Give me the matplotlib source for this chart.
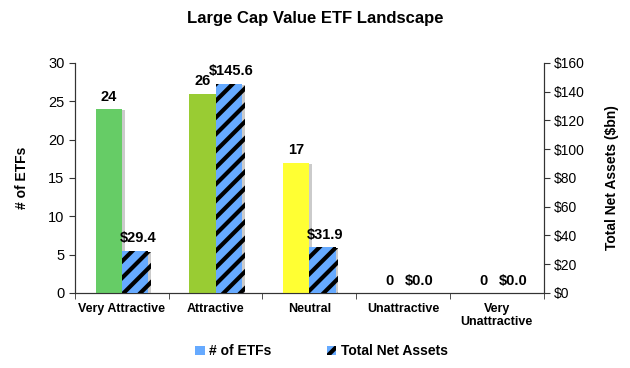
import numpy as np
import matplotlib
matplotlib.use('Agg')
import matplotlib.pyplot as plt
import matplotlib.patheffects as pe
from matplotlib.patches import Patch

plt.rcParams['font.family'] = ['Liberation Sans', 'DejaVu Sans']
plt.rcParams['hatch.linewidth'] = 3.0

categories = ['Very Attractive', 'Attractive', 'Neutral', 'Unattractive', 'Very\nUnattractive']
num_etfs = [24, 26, 17, 0, 0]
net_assets = [29.4, 145.6, 31.9, 0.0, 0.0]
etf_colors = ['#66CC66', '#99CC33', '#FFFF33', '#FF9933', '#FF3333']

fig = plt.figure(figsize=(6.3, 3.68), dpi=100)
ax = fig.add_axes([0.119, 0.204, 0.744, 0.625])
ax2 = ax.twinx()

x = np.arange(len(categories))
w = 0.28
shadow = [pe.SimplePatchShadow(offset=(2, -1), shadow_rgbFace='#999999', alpha=0.5), pe.Normal()]

b1 = ax.bar(x - w / 2, num_etfs, w, color=etf_colors, linewidth=0, path_effects=shadow, zorder=3)
b2 = ax2.bar(x + w / 2, net_assets, w, color='#66AAFF', edgecolor='black', linewidth=0,
             hatch='//', path_effects=shadow, zorder=3)

for xi, v in zip(x, num_etfs):
    ax.text(xi - w / 2, v + 0.7, f'{v}', ha='center', va='bottom', fontsize=10.5, fontweight='bold')
for xi, v in zip(x, net_assets):
    ax2.text(xi + w / 2 + 0.03, v + 3.7, f'${v:.1f}', ha='center', va='bottom', fontsize=10.5, fontweight='bold')

ax.set_xlim(-0.5, len(categories) - 0.5)
ax.set_ylim(0, 30)
ax.set_yticks(range(0, 31, 5))
ax2.set_ylim(0, 160)
ax2.set_yticks(range(0, 161, 20))
ax2.set_yticklabels([f'${t}' for t in range(0, 161, 20)])

ax.set_xticks(x)
ax.set_xticklabels(categories, fontsize=9, fontweight='bold')
ax.set_xticks(np.arange(-0.5, len(categories), 1), minor=True)
ax.tick_params(axis='x', which='major', length=0, pad=7)
ax.tick_params(axis='x', which='minor', length=4, direction='out', color='#333333')
ax.tick_params(axis='y', labelsize=10.5, length=4, color='#333333')
ax2.tick_params(axis='y', labelsize=10, length=4, color='#333333')

for a in (ax, ax2):
    a.spines['top'].set_visible(False)
    for s in ('left', 'right', 'bottom'):
        a.spines[s].set_color('#333333')

ax.set_ylabel('# of ETFs', fontsize=10, fontweight='bold', labelpad=14)
ax2.set_ylabel('Total Net Assets ($bn)', fontsize=10, fontweight='bold', labelpad=14)
fig.suptitle('Large Cap Value ETF Landscape', x=0.5, y=0.97, fontsize=12, fontweight='bold')

handles = [Patch(facecolor='#66AAFF', linewidth=0),
           Patch(facecolor='#66AAFF', edgecolor='black', linewidth=0, hatch='//')]
fig.legend(handles, ['# of ETFs', 'Total Net Assets'], loc='center', bbox_to_anchor=(0.51, 0.045),
           ncol=2, frameon=False, prop={'weight': 'bold', 'size': 10},
           handlelength=0.7, handleheight=0.7, handletextpad=0.3, columnspacing=4)

fig.savefig('out.png', dpi=100)
